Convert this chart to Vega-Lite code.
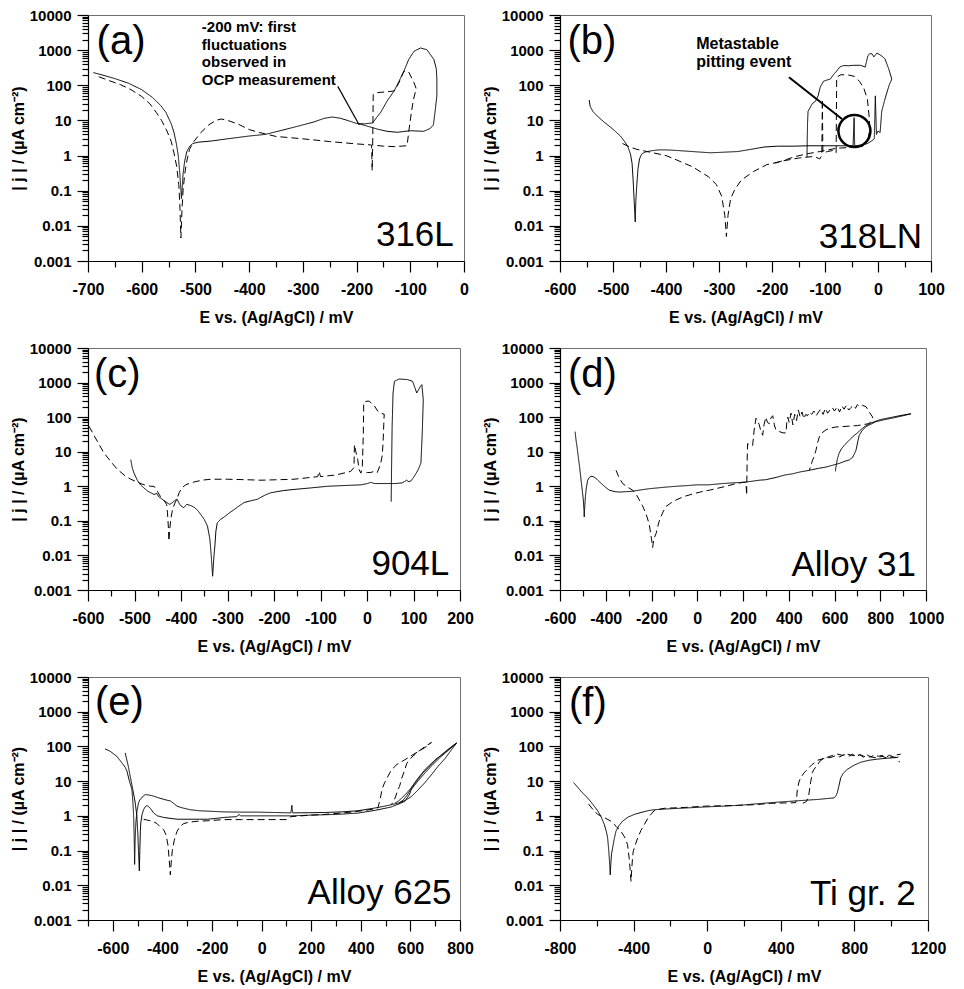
{
"$schema": "https://vega.github.io/schema/vega-lite/v6.json",
"background": "white",
"padding": {"left": 9, "top": 7, "right": 5, "bottom": 5},
"datasets": {
"a": [
{"E":-690,"j":230,"curve":"s","run":"solid"},{"E":-670,"j":190,"curve":"s","run":"solid"},{"E":-650,"j":155,"curve":"s","run":"solid"},{"E":-625,"j":115,"curve":"s","run":"solid"},{"E":-600,"j":75,"curve":"s","run":"solid"},{"E":-580,"j":45,"curve":"s","run":"solid"},{"E":-565,"j":27,"curve":"s","run":"solid"},{"E":-555,"j":17,"curve":"s","run":"solid"},{"E":-545,"j":8,"curve":"s","run":"solid"},{"E":-540,"j":4.6,"curve":"s","run":"solid"},{"E":-535,"j":2,"curve":"s","run":"solid"},{"E":-532,"j":1,"curve":"s","run":"solid"},{"E":-529,"j":0.3,"curve":"s","run":"solid"},{"E":-527,"j":0.1,"curve":"s","run":"solid"},{"E":-526,"j":0.06,"curve":"s","run":"solid"},{"E":-525,"j":0.1,"curve":"s","run":"solid"},{"E":-523,"j":0.3,"curve":"s","run":"solid"},{"E":-520,"j":0.7,"curve":"s","run":"solid"},{"E":-516,"j":1.3,"curve":"s","run":"solid"},{"E":-510,"j":1.9,"curve":"s","run":"solid"},{"E":-505,"j":2.2,"curve":"s","run":"solid"},{"E":-495,"j":2.4,"curve":"s","run":"solid"},{"E":-470,"j":2.6,"curve":"s","run":"solid"},{"E":-440,"j":3,"curve":"s","run":"solid"},{"E":-400,"j":3.6,"curve":"s","run":"solid"},{"E":-370,"j":4,"curve":"s","run":"solid"},{"E":-340,"j":5.2,"curve":"s","run":"solid"},{"E":-310,"j":6.8,"curve":"s","run":"solid"},{"E":-280,"j":9,"curve":"s","run":"solid"},{"E":-260,"j":11.5,"curve":"s","run":"solid"},{"E":-245,"j":12.5,"curve":"s","run":"solid"},{"E":-230,"j":11.5,"curve":"s","run":"solid"},{"E":-215,"j":9.8,"curve":"s","run":"solid"},{"E":-200,"j":8.2,"curve":"s","run":"solid"},{"E":-185,"j":8,"curve":"s","run":"solid"},{"E":-170,"j":8.5,"curve":"s","run":"solid"},{"E":-163,"j":12,"curve":"s","run":"solid"},{"E":-155,"j":17,"curve":"s","run":"solid"},{"E":-143,"j":36,"curve":"s","run":"solid"},{"E":-130,"j":69,"curve":"s","run":"solid"},{"E":-121,"j":130,"curve":"s","run":"solid"},{"E":-112,"j":250,"curve":"s","run":"solid"},{"E":-103,"j":540,"curve":"s","run":"solid"},{"E":-93,"j":930,"curve":"s","run":"solid"},{"E":-81,"j":1150,"curve":"s","run":"solid"},{"E":-69,"j":1030,"curve":"s","run":"solid"},{"E":-56,"j":540,"curve":"s","run":"solid"},{"E":-51.5,"j":290,"curve":"s","run":"solid"},{"E":-50.5,"j":148,"curve":"s","run":"solid"},{"E":-50.5,"j":50,"curve":"s","run":"solid"},{"E":-54,"j":17,"curve":"s","run":"solid"},{"E":-57,"j":7.5,"curve":"s","run":"solid"},{"E":-63,"j":5.9,"curve":"s","run":"solid"},{"E":-75,"j":4.9,"curve":"s","run":"solid"},{"E":-100,"j":5.1,"curve":"s","run":"solid"},{"E":-124,"j":4.6,"curve":"s","run":"solid"},{"E":-143,"j":4.9,"curve":"s","run":"solid"},{"E":-160,"j":5.6,"curve":"s","run":"solid"},{"E":-173,"j":6.4,"curve":"s","run":"solid"},{"E":-190,"j":7.6,"curve":"s","run":"solid"},{"E":-198,"j":8.3,"curve":"s","run":"solid"},
{"E":-680,"j":175,"curve":"d","run":"dashed"},{"E":-660,"j":135,"curve":"d","run":"dashed"},{"E":-640,"j":105,"curve":"d","run":"dashed"},{"E":-620,"j":75,"curve":"d","run":"dashed"},{"E":-600,"j":48,"curve":"d","run":"dashed"},{"E":-585,"j":30,"curve":"d","run":"dashed"},{"E":-573,"j":17,"curve":"d","run":"dashed"},{"E":-563,"j":10,"curve":"d","run":"dashed"},{"E":-553,"j":5,"curve":"d","run":"dashed"},{"E":-545,"j":2.5,"curve":"d","run":"dashed"},{"E":-540,"j":1.2,"curve":"d","run":"dashed"},{"E":-535,"j":0.5,"curve":"d","run":"dashed"},{"E":-531,"j":0.15,"curve":"d","run":"dashed"},{"E":-529,"j":0.04,"curve":"d","run":"dashed"},{"E":-527,"j":0.0045,"curve":"d","run":"dashed"},{"E":-525,"j":0.03,"curve":"d","run":"dashed"},{"E":-523,"j":0.1,"curve":"d","run":"dashed"},{"E":-520,"j":0.3,"curve":"d","run":"dashed"},{"E":-516,"j":0.7,"curve":"d","run":"dashed"},{"E":-511,"j":1.5,"curve":"d","run":"dashed"},{"E":-503,"j":2.5,"curve":"d","run":"dashed"},{"E":-490,"j":4.5,"curve":"d","run":"dashed"},{"E":-475,"j":7.5,"curve":"d","run":"dashed"},{"E":-462,"j":10,"curve":"d","run":"dashed"},{"E":-452,"j":11,"curve":"d","run":"dashed"},{"E":-440,"j":10,"curve":"d","run":"dashed"},{"E":-420,"j":7.8,"curve":"d","run":"dashed"},{"E":-400,"j":5.5,"curve":"d","run":"dashed"},{"E":-380,"j":4.5,"curve":"d","run":"dashed"},{"E":-350,"j":3.5,"curve":"d","run":"dashed"},{"E":-300,"j":3,"curve":"d","run":"dashed"},{"E":-250,"j":2.5,"curve":"d","run":"dashed"},{"E":-200,"j":2.15,"curve":"d","run":"dashed"},{"E":-172,"j":2,"curve":"d","run":"dashed"},{"E":-171,"j":0.37,"curve":"d","run":"dashed"},{"E":-170,"j":2,"curve":"d","run":"dashed"},{"E":-169,"j":55,"curve":"d","run":"dashed"},{"E":-161,"j":62,"curve":"d","run":"dashed"},{"E":-145,"j":65,"curve":"d","run":"dashed"},{"E":-130,"j":69,"curve":"d","run":"dashed"},{"E":-121,"j":118,"curve":"d","run":"dashed"},{"E":-112,"j":250,"curve":"d","run":"dashed"},{"E":-103,"j":240,"curve":"d","run":"dashed"},{"E":-93,"j":118,"curve":"d","run":"dashed"},{"E":-89,"j":80,"curve":"d","run":"dashed"},{"E":-94,"j":40,"curve":"d","run":"dashed"},{"E":-98,"j":17,"curve":"d","run":"dashed"},{"E":-103,"j":4.6,"curve":"d","run":"dashed"},{"E":-106,"j":1.9,"curve":"d","run":"dashed"},{"E":-130,"j":1.8,"curve":"d","run":"dashed"},{"E":-150,"j":1.85,"curve":"d","run":"dashed"},{"E":-170,"j":2,"curve":"d","run":"dashed"}
],
"b": [
{"E":-545,"j":38,"curve":"s","run":"solid"},{"E":-543,"j":25,"curve":"s","run":"solid"},{"E":-538,"j":18,"curve":"s","run":"solid"},{"E":-530,"j":13.5,"curve":"s","run":"solid"},{"E":-517,"j":9,"curve":"s","run":"solid"},{"E":-504,"j":6.3,"curve":"s","run":"solid"},{"E":-495,"j":4.8,"curve":"s","run":"solid"},{"E":-486,"j":3.6,"curve":"s","run":"solid"},{"E":-478,"j":2.5,"curve":"s","run":"solid"},{"E":-472,"j":1.8,"curve":"s","run":"solid"},{"E":-467,"j":1.1,"curve":"s","run":"solid"},{"E":-464,"j":0.6,"curve":"s","run":"solid"},{"E":-462,"j":0.2,"curve":"s","run":"solid"},{"E":-460,"j":0.05,"curve":"s","run":"solid"},{"E":-458,"j":0.013,"curve":"s","run":"solid"},{"E":-457,"j":0.05,"curve":"s","run":"solid"},{"E":-455,"j":0.15,"curve":"s","run":"solid"},{"E":-453,"j":0.4,"curve":"s","run":"solid"},{"E":-450,"j":0.8,"curve":"s","run":"solid"},{"E":-446,"j":1.1,"curve":"s","run":"solid"},{"E":-440,"j":1.25,"curve":"s","run":"solid"},{"E":-430,"j":1.35,"curve":"s","run":"solid"},{"E":-415,"j":1.45,"curve":"s","run":"solid"},{"E":-400,"j":1.45,"curve":"s","run":"solid"},{"E":-380,"j":1.4,"curve":"s","run":"solid"},{"E":-350,"j":1.3,"curve":"s","run":"solid"},{"E":-316,"j":1.2,"curve":"s","run":"solid"},{"E":-290,"j":1.25,"curve":"s","run":"solid"},{"E":-265,"j":1.3,"curve":"s","run":"solid"},{"E":-240,"j":1.5,"curve":"s","run":"solid"},{"E":-215,"j":1.75,"curve":"s","run":"solid"},{"E":-190,"j":1.85,"curve":"s","run":"solid"},{"E":-160,"j":1.85,"curve":"s","run":"solid"},{"E":-130,"j":1.9,"curve":"s","run":"solid"},{"E":-100,"j":1.9,"curve":"s","run":"solid"},{"E":-70,"j":1.9,"curve":"s","run":"solid"},{"E":-47,"j":1.9,"curve":"s","run":"solid"},{"E":-45,"j":12,"curve":"s","run":"solid"},{"E":-44,"j":1.9,"curve":"s","run":"solid"},{"E":-30,"j":2,"curve":"s","run":"solid"},{"E":-20,"j":2.2,"curve":"s","run":"solid"},{"E":-12,"j":2.6,"curve":"s","run":"solid"},{"E":-7,"j":3,"curve":"s","run":"solid"},{"E":-5,"j":50,"curve":"s","run":"solid"},{"E":-3,"j":4,"curve":"s","run":"solid"},{"E":0,"j":5,"curve":"s","run":"solid"},{"E":4,"j":4.5,"curve":"s","run":"solid"},{"E":7,"j":18,"curve":"s","run":"solid"},{"E":12,"j":35,"curve":"s","run":"solid"},{"E":16,"j":57,"curve":"s","run":"solid"},{"E":21,"j":100,"curve":"s","run":"solid"},{"E":26,"j":150,"curve":"s","run":"solid"},{"E":20,"j":300,"curve":"s","run":"solid"},{"E":13,"j":570,"curve":"s","run":"solid"},{"E":6,"j":700,"curve":"s","run":"solid"},{"E":-2,"j":830,"curve":"s","run":"solid"},{"E":-8,"j":640,"curve":"s","run":"solid"},{"E":-11,"j":780,"curve":"s","run":"solid"},{"E":-15,"j":800,"curve":"s","run":"solid"},{"E":-19,"j":700,"curve":"s","run":"solid"},{"E":-22,"j":450,"curve":"s","run":"solid"},{"E":-24,"j":330,"curve":"s","run":"solid"},{"E":-33,"j":370,"curve":"s","run":"solid"},{"E":-46,"j":370,"curve":"s","run":"solid"},{"E":-55,"j":360,"curve":"s","run":"solid"},{"E":-65,"j":365,"curve":"s","run":"solid"},{"E":-72,"j":330,"curve":"s","run":"solid"},{"E":-77,"j":265,"curve":"s","run":"solid"},{"E":-84,"j":200,"curve":"s","run":"solid"},{"E":-90,"j":150,"curve":"s","run":"solid"},{"E":-97,"j":140,"curve":"s","run":"solid"},{"E":-103,"j":130,"curve":"s","run":"solid"},{"E":-109,"j":88,"curve":"s","run":"solid"},{"E":-113,"j":50,"curve":"s","run":"solid"},{"E":-118,"j":35,"curve":"s","run":"solid"},{"E":-124,"j":30,"curve":"s","run":"solid"},{"E":-129,"j":22,"curve":"s","run":"solid"},{"E":-132,"j":18,"curve":"s","run":"solid"},{"E":-133,"j":8,"curve":"s","run":"solid"},{"E":-134,"j":0.9,"curve":"s","run":"solid"},
{"E":-482,"j":2.2,"curve":"d","run":"dashed"},{"E":-470,"j":1.8,"curve":"d","run":"dashed"},{"E":-455,"j":1.5,"curve":"d","run":"dashed"},{"E":-430,"j":1.25,"curve":"d","run":"dashed"},{"E":-400,"j":1,"curve":"d","run":"dashed"},{"E":-380,"j":0.75,"curve":"d","run":"dashed"},{"E":-350,"j":0.48,"curve":"d","run":"dashed"},{"E":-320,"j":0.25,"curve":"d","run":"dashed"},{"E":-305,"j":0.15,"curve":"d","run":"dashed"},{"E":-295,"j":0.07,"curve":"d","run":"dashed"},{"E":-289,"j":0.02,"curve":"d","run":"dashed"},{"E":-286,"j":0.005,"curve":"d","run":"dashed"},{"E":-283,"j":0.02,"curve":"d","run":"dashed"},{"E":-278,"j":0.06,"curve":"d","run":"dashed"},{"E":-270,"j":0.11,"curve":"d","run":"dashed"},{"E":-258,"j":0.2,"curve":"d","run":"dashed"},{"E":-235,"j":0.35,"curve":"d","run":"dashed"},{"E":-210,"j":0.55,"curve":"d","run":"dashed"},{"E":-180,"j":0.7,"curve":"d","run":"dashed"},{"E":-150,"j":0.85,"curve":"d","run":"dashed"},{"E":-120,"j":0.95,"curve":"d","run":"dashed"},{"E":-110,"j":0.8,"curve":"d","run":"dashed"},{"E":-106,"j":1,"curve":"d","run":"dashed"},{"E":-105,"j":40,"curve":"d","run":"dashed"},{"E":-104,"j":1.2,"curve":"d","run":"dashed"},{"E":-95,"j":1.3,"curve":"d","run":"dashed"},{"E":-85,"j":1.4,"curve":"d","run":"dashed"},{"E":-79,"j":1.2,"curve":"d","run":"dashed"},{"E":-78,"j":170,"curve":"d","run":"dashed"},{"E":-70,"j":200,"curve":"d","run":"dashed"},{"E":-55,"j":195,"curve":"d","run":"dashed"},{"E":-45,"j":180,"curve":"d","run":"dashed"},{"E":-35,"j":130,"curve":"d","run":"dashed"},{"E":-27,"j":85,"curve":"d","run":"dashed"},{"E":-20,"j":40,"curve":"d","run":"dashed"},{"E":-16,"j":10,"curve":"d","run":"dashed"},{"E":-16,"j":5,"curve":"d","run":"dashed"},{"E":-20,"j":2.5,"curve":"d","run":"dashed"},{"E":-30,"j":1.8,"curve":"d","run":"dashed"},{"E":-55,"j":1.7,"curve":"d","run":"dashed"},{"E":-80,"j":1.6,"curve":"d","run":"dashed"},{"E":-110,"j":1.3,"curve":"d","run":"dashed"},{"E":-130,"j":1.15,"curve":"d","run":"dashed"},{"E":-155,"j":0.95,"curve":"d","run":"dashed"},{"E":-195,"j":0.6,"curve":"d","run":"dashed"}
],
"c": [
{"E":-508,"j":5.9,"curve":"s","run":"solid"},{"E":-505,"j":3.5,"curve":"s","run":"solid"},{"E":-501,"j":2.4,"curve":"s","run":"solid"},{"E":-494,"j":1.5,"curve":"s","run":"solid"},{"E":-487,"j":1.1,"curve":"s","run":"solid"},{"E":-480,"j":0.9,"curve":"s","run":"solid"},{"E":-472,"j":0.73,"curve":"s","run":"solid"},{"E":-465,"j":0.65,"curve":"s","run":"solid"},{"E":-458,"j":0.58,"curve":"s","run":"solid"},{"E":-452,"j":0.62,"curve":"s","run":"solid"},{"E":-448,"j":0.5,"curve":"s","run":"solid"},{"E":-444,"j":0.46,"curve":"s","run":"solid"},{"E":-438,"j":0.4,"curve":"s","run":"solid"},{"E":-433,"j":0.36,"curve":"s","run":"solid"},{"E":-428,"j":0.32,"curve":"s","run":"solid"},{"E":-424,"j":0.3,"curve":"s","run":"solid"},{"E":-418,"j":0.34,"curve":"s","run":"solid"},{"E":-412,"j":0.4,"curve":"s","run":"solid"},{"E":-408,"j":0.42,"curve":"s","run":"solid"},{"E":-404,"j":0.32,"curve":"s","run":"solid"},{"E":-400,"j":0.27,"curve":"s","run":"solid"},{"E":-394,"j":0.24,"curve":"s","run":"solid"},{"E":-388,"j":0.3,"curve":"s","run":"solid"},{"E":-380,"j":0.28,"curve":"s","run":"solid"},{"E":-372,"j":0.25,"curve":"s","run":"solid"},{"E":-364,"j":0.2,"curve":"s","run":"solid"},{"E":-357,"j":0.15,"curve":"s","run":"solid"},{"E":-350,"j":0.11,"curve":"s","run":"solid"},{"E":-343,"j":0.07,"curve":"s","run":"solid"},{"E":-338,"j":0.03,"curve":"s","run":"solid"},{"E":-335,"j":0.01,"curve":"s","run":"solid"},{"E":-332,"j":0.0025,"curve":"s","run":"solid"},{"E":-329,"j":0.01,"curve":"s","run":"solid"},{"E":-327,"j":0.02,"curve":"s","run":"solid"},{"E":-325,"j":0.05,"curve":"s","run":"solid"},{"E":-322,"j":0.088,"curve":"s","run":"solid"},{"E":-315,"j":0.11,"curve":"s","run":"solid"},{"E":-307,"j":0.13,"curve":"s","run":"solid"},{"E":-296,"j":0.17,"curve":"s","run":"solid"},{"E":-286,"j":0.21,"curve":"s","run":"solid"},{"E":-275,"j":0.27,"curve":"s","run":"solid"},{"E":-264,"j":0.34,"curve":"s","run":"solid"},{"E":-250,"j":0.38,"curve":"s","run":"solid"},{"E":-236,"j":0.42,"curve":"s","run":"solid"},{"E":-220,"j":0.55,"curve":"s","run":"solid"},{"E":-207,"j":0.65,"curve":"s","run":"solid"},{"E":-180,"j":0.75,"curve":"s","run":"solid"},{"E":-157,"j":0.81,"curve":"s","run":"solid"},{"E":-120,"j":0.9,"curve":"s","run":"solid"},{"E":-85,"j":1,"curve":"s","run":"solid"},{"E":-50,"j":1.05,"curve":"s","run":"solid"},{"E":-13,"j":1.1,"curve":"s","run":"solid"},{"E":1,"j":1.2,"curve":"s","run":"solid"},{"E":8,"j":1.3,"curve":"s","run":"solid"},{"E":16,"j":1.2,"curve":"s","run":"solid"},{"E":30,"j":1.2,"curve":"s","run":"solid"},{"E":45,"j":1.2,"curve":"s","run":"solid"},{"E":60,"j":1.2,"curve":"s","run":"solid"},{"E":75,"j":1.25,"curve":"s","run":"solid"},{"E":80,"j":1.35,"curve":"s","run":"solid"},{"E":85,"j":1.5,"curve":"s","run":"solid"},{"E":90,"j":1.35,"curve":"s","run":"solid"},{"E":95,"j":1.45,"curve":"s","run":"solid"},{"E":100,"j":1.8,"curve":"s","run":"solid"},{"E":105,"j":2.3,"curve":"s","run":"solid"},{"E":110,"j":3,"curve":"s","run":"solid"},{"E":116,"j":4.7,"curve":"s","run":"solid"},{"E":119,"j":40,"curve":"s","run":"solid"},{"E":121,"j":320,"curve":"s","run":"solid"},{"E":118,"j":870,"curve":"s","run":"solid"},{"E":115,"j":780,"curve":"s","run":"solid"},{"E":107,"j":500,"curve":"s","run":"solid"},{"E":98,"j":1090,"curve":"s","run":"solid"},{"E":87,"j":1220,"curve":"s","run":"solid"},{"E":69,"j":1270,"curve":"s","run":"solid"},{"E":59,"j":1090,"curve":"s","run":"solid"},{"E":56,"j":500,"curve":"s","run":"solid"},{"E":54,"j":50,"curve":"s","run":"solid"},{"E":53,"j":5,"curve":"s","run":"solid"},{"E":52,"j":0.36,"curve":"s","run":"solid"},
{"E":-598,"j":55,"curve":"d","run":"dashed"},{"E":-590,"j":35,"curve":"d","run":"dashed"},{"E":-580,"j":20,"curve":"d","run":"dashed"},{"E":-566,"j":9.3,"curve":"d","run":"dashed"},{"E":-550,"j":5,"curve":"d","run":"dashed"},{"E":-537,"j":3.1,"curve":"d","run":"dashed"},{"E":-520,"j":2,"curve":"d","run":"dashed"},{"E":-508,"j":1.6,"curve":"d","run":"dashed"},{"E":-490,"j":1.25,"curve":"d","run":"dashed"},{"E":-479,"j":1.1,"curve":"d","run":"dashed"},{"E":-465,"j":1,"curve":"d","run":"dashed"},{"E":-458,"j":1,"curve":"d","run":"dashed"},{"E":-451,"j":0.72,"curve":"d","run":"dashed"},{"E":-444,"j":0.5,"curve":"d","run":"dashed"},{"E":-436,"j":0.38,"curve":"d","run":"dashed"},{"E":-431,"j":0.3,"curve":"d","run":"dashed"},{"E":-429,"j":0.17,"curve":"d","run":"dashed"},{"E":-427,"j":0.06,"curve":"d","run":"dashed"},{"E":-426,"j":0.026,"curve":"d","run":"dashed"},{"E":-424,"j":0.06,"curve":"d","run":"dashed"},{"E":-422,"j":0.11,"curve":"d","run":"dashed"},{"E":-418,"j":0.22,"curve":"d","run":"dashed"},{"E":-413,"j":0.33,"curve":"d","run":"dashed"},{"E":-409,"j":0.42,"curve":"d","run":"dashed"},{"E":-404,"j":0.65,"curve":"d","run":"dashed"},{"E":-398,"j":0.9,"curve":"d","run":"dashed"},{"E":-390,"j":1.1,"curve":"d","run":"dashed"},{"E":-380,"j":1.25,"curve":"d","run":"dashed"},{"E":-370,"j":1.35,"curve":"d","run":"dashed"},{"E":-355,"j":1.5,"curve":"d","run":"dashed"},{"E":-336,"j":1.6,"curve":"d","run":"dashed"},{"E":-300,"j":1.6,"curve":"d","run":"dashed"},{"E":-260,"j":1.55,"curve":"d","run":"dashed"},{"E":-228,"j":1.5,"curve":"d","run":"dashed"},{"E":-190,"j":1.55,"curve":"d","run":"dashed"},{"E":-157,"j":1.6,"curve":"d","run":"dashed"},{"E":-130,"j":1.75,"curve":"d","run":"dashed"},{"E":-106,"j":1.9,"curve":"d","run":"dashed"},{"E":-103,"j":2.7,"curve":"d","run":"dashed"},{"E":-100,"j":1.9,"curve":"d","run":"dashed"},{"E":-85,"j":2,"curve":"d","run":"dashed"},{"E":-70,"j":2.1,"curve":"d","run":"dashed"},{"E":-56,"j":2.3,"curve":"d","run":"dashed"},{"E":-45,"j":2.5,"curve":"d","run":"dashed"},{"E":-35,"j":2.7,"curve":"d","run":"dashed"},{"E":-28,"j":3.5,"curve":"d","run":"dashed"},{"E":-27,"j":16,"curve":"d","run":"dashed"},{"E":-24,"j":10,"curve":"d","run":"dashed"},{"E":-20,"j":6,"curve":"d","run":"dashed"},{"E":-17,"j":3,"curve":"d","run":"dashed"},{"E":-13,"j":2.4,"curve":"d","run":"dashed"},{"E":-10,"j":3.9,"curve":"d","run":"dashed"},{"E":-8,"j":30,"curve":"d","run":"dashed"},{"E":-7,"j":270,"curve":"d","run":"dashed"},{"E":0,"j":290,"curve":"d","run":"dashed"},{"E":5,"j":290,"curve":"d","run":"dashed"},{"E":11,"j":240,"curve":"d","run":"dashed"},{"E":16,"j":210,"curve":"d","run":"dashed"},{"E":23,"j":150,"curve":"d","run":"dashed"},{"E":30,"j":128,"curve":"d","run":"dashed"},{"E":37,"j":122,"curve":"d","run":"dashed"},{"E":36,"j":60,"curve":"d","run":"dashed"},{"E":35,"j":25,"curve":"d","run":"dashed"},{"E":33,"j":8,"curve":"d","run":"dashed"},{"E":30,"j":5,"curve":"d","run":"dashed"},{"E":26,"j":3.4,"curve":"d","run":"dashed"},{"E":22,"j":2.5,"curve":"d","run":"dashed"},{"E":15,"j":2.7,"curve":"d","run":"dashed"},{"E":8,"j":2.5,"curve":"d","run":"dashed"},{"E":1,"j":2.5,"curve":"d","run":"dashed"},{"E":-6,"j":2.4,"curve":"d","run":"dashed"}
],
"d": [
{"E":-534,"j":38,"curve":"s","run":"solid"},{"E":-530,"j":22,"curve":"s","run":"solid"},{"E":-525,"j":13,"curve":"s","run":"solid"},{"E":-520,"j":7,"curve":"s","run":"solid"},{"E":-514,"j":3.5,"curve":"s","run":"solid"},{"E":-508,"j":1.5,"curve":"s","run":"solid"},{"E":-502,"j":0.7,"curve":"s","run":"solid"},{"E":-498,"j":0.4,"curve":"s","run":"solid"},{"E":-495,"j":0.2,"curve":"s","run":"solid"},{"E":-494,"j":0.13,"curve":"s","run":"solid"},{"E":-492,"j":0.25,"curve":"s","run":"solid"},{"E":-489,"j":0.5,"curve":"s","run":"solid"},{"E":-485,"j":0.9,"curve":"s","run":"solid"},{"E":-479,"j":1.5,"curve":"s","run":"solid"},{"E":-472,"j":1.8,"curve":"s","run":"solid"},{"E":-464,"j":1.95,"curve":"s","run":"solid"},{"E":-455,"j":1.9,"curve":"s","run":"solid"},{"E":-443,"j":1.7,"curve":"s","run":"solid"},{"E":-430,"j":1.4,"curve":"s","run":"solid"},{"E":-413,"j":1.1,"curve":"s","run":"solid"},{"E":-398,"j":0.9,"curve":"s","run":"solid"},{"E":-384,"j":0.77,"curve":"s","run":"solid"},{"E":-360,"j":0.7,"curve":"s","run":"solid"},{"E":-341,"j":0.68,"curve":"s","run":"solid"},{"E":-310,"j":0.7,"curve":"s","run":"solid"},{"E":-282,"j":0.72,"curve":"s","run":"solid"},{"E":-250,"j":0.78,"curve":"s","run":"solid"},{"E":-210,"j":0.85,"curve":"s","run":"solid"},{"E":-150,"j":0.93,"curve":"s","run":"solid"},{"E":-93,"j":1,"curve":"s","run":"solid"},{"E":-40,"j":1.05,"curve":"s","run":"solid"},{"E":-5,"j":1.1,"curve":"s","run":"solid"},{"E":50,"j":1.1,"curve":"s","run":"solid"},{"E":111,"j":1.2,"curve":"s","run":"solid"},{"E":150,"j":1.25,"curve":"s","run":"solid"},{"E":198,"j":1.3,"curve":"s","run":"solid"},{"E":240,"j":1.4,"curve":"s","run":"solid"},{"E":271,"j":1.5,"curve":"s","run":"solid"},{"E":300,"j":1.55,"curve":"s","run":"solid"},{"E":344,"j":1.8,"curve":"s","run":"solid"},{"E":380,"j":2.1,"curve":"s","run":"solid"},{"E":417,"j":2.3,"curve":"s","run":"solid"},{"E":450,"j":2.6,"curve":"s","run":"solid"},{"E":490,"j":2.9,"curve":"s","run":"solid"},{"E":530,"j":3.3,"curve":"s","run":"solid"},{"E":563,"j":3.6,"curve":"s","run":"solid"},{"E":600,"j":4.2,"curve":"s","run":"solid"},{"E":621,"j":4.6,"curve":"s","run":"solid"},{"E":645,"j":5.3,"curve":"s","run":"solid"},{"E":665,"j":5.8,"curve":"s","run":"solid"},{"E":680,"j":7,"curve":"s","run":"solid"},{"E":694,"j":11,"curve":"s","run":"solid"},{"E":702,"j":20,"curve":"s","run":"solid"},{"E":708,"j":30,"curve":"s","run":"solid"},{"E":720,"j":40,"curve":"s","run":"solid"},{"E":737,"j":53,"curve":"s","run":"solid"},{"E":760,"j":63,"curve":"s","run":"solid"},{"E":781,"j":74,"curve":"s","run":"solid"},{"E":820,"j":85,"curve":"s","run":"solid"},{"E":854,"j":94,"curve":"s","run":"solid"},{"E":900,"j":110,"curve":"s","run":"solid"},{"E":934,"j":125,"curve":"s","run":"solid"},{"E":900,"j":115,"curve":"s","run":"solid"},{"E":854,"j":100,"curve":"s","run":"solid"},{"E":800,"j":85,"curve":"s","run":"solid"},{"E":760,"j":68,"curve":"s","run":"solid"},{"E":740,"j":58,"curve":"s","run":"solid"},{"E":723,"j":48,"curve":"s","run":"solid"},{"E":700,"j":35,"curve":"s","run":"solid"},{"E":679,"j":27,"curve":"s","run":"solid"},{"E":660,"j":20,"curve":"s","run":"solid"},{"E":645,"j":16,"curve":"s","run":"solid"},{"E":630,"j":12,"curve":"s","run":"solid"},{"E":620,"j":9,"curve":"s","run":"solid"},{"E":612,"j":6,"curve":"s","run":"solid"},{"E":606,"j":3.5,"curve":"s","run":"solid"},{"E":604,"j":2.7,"curve":"s","run":"solid"},
{"E":-355,"j":2.9,"curve":"d","run":"dashed"},{"E":-345,"j":2,"curve":"d","run":"dashed"},{"E":-335,"j":1.5,"curve":"d","run":"dashed"},{"E":-326,"j":1.2,"curve":"d","run":"dashed"},{"E":-305,"j":0.95,"curve":"d","run":"dashed"},{"E":-282,"j":0.77,"curve":"d","run":"dashed"},{"E":-265,"j":0.55,"curve":"d","run":"dashed"},{"E":-253,"j":0.4,"curve":"d","run":"dashed"},{"E":-240,"j":0.28,"curve":"d","run":"dashed"},{"E":-224,"j":0.16,"curve":"d","run":"dashed"},{"E":-210,"j":0.08,"curve":"d","run":"dashed"},{"E":-200,"j":0.03,"curve":"d","run":"dashed"},{"E":-195,"j":0.017,"curve":"d","run":"dashed"},{"E":-190,"j":0.03,"curve":"d","run":"dashed"},{"E":-180,"j":0.043,"curve":"d","run":"dashed"},{"E":-172,"j":0.07,"curve":"d","run":"dashed"},{"E":-166,"j":0.1,"curve":"d","run":"dashed"},{"E":-150,"j":0.18,"curve":"d","run":"dashed"},{"E":-137,"j":0.26,"curve":"d","run":"dashed"},{"E":-115,"j":0.33,"curve":"d","run":"dashed"},{"E":-93,"j":0.4,"curve":"d","run":"dashed"},{"E":-60,"j":0.5,"curve":"d","run":"dashed"},{"E":-20,"j":0.6,"curve":"d","run":"dashed"},{"E":20,"j":0.7,"curve":"d","run":"dashed"},{"E":53,"j":0.77,"curve":"d","run":"dashed"},{"E":90,"j":0.88,"curve":"d","run":"dashed"},{"E":126,"j":1,"curve":"d","run":"dashed"},{"E":160,"j":1.15,"curve":"d","run":"dashed"},{"E":199,"j":1.3,"curve":"d","run":"dashed"},{"E":213,"j":1.3,"curve":"d","run":"dashed"},{"E":216,"j":0.55,"curve":"d","run":"dashed"},{"E":218,"j":5,"curve":"d","run":"dashed"},{"E":220,"j":17,"curve":"d","run":"dashed"},{"E":232,"j":16,"curve":"d","run":"dashed"},{"E":242,"j":15,"curve":"d","run":"dashed"},{"E":250,"j":50,"curve":"d","run":"dashed"},{"E":257,"j":93,"curve":"d","run":"dashed"},{"E":265,"j":75,"curve":"d","run":"dashed"},{"E":271,"j":60,"curve":"d","run":"dashed"},{"E":278,"j":40,"curve":"d","run":"dashed"},{"E":286,"j":30,"curve":"d","run":"dashed"},{"E":292,"j":60,"curve":"d","run":"dashed"},{"E":300,"j":100,"curve":"d","run":"dashed"},{"E":307,"j":70,"curve":"d","run":"dashed"},{"E":315,"j":65,"curve":"d","run":"dashed"},{"E":322,"j":95,"curve":"d","run":"dashed"},{"E":330,"j":110,"curve":"d","run":"dashed"},{"E":337,"j":60,"curve":"d","run":"dashed"},{"E":344,"j":42,"curve":"d","run":"dashed"},{"E":360,"j":38,"curve":"d","run":"dashed"},{"E":375,"j":35,"curve":"d","run":"dashed"},{"E":388,"j":35,"curve":"d","run":"dashed"},{"E":392,"j":80,"curve":"d","run":"dashed"},{"E":396,"j":100,"curve":"d","run":"dashed"},{"E":402,"j":70,"curve":"d","run":"dashed"},{"E":410,"j":130,"curve":"d","run":"dashed"},{"E":418,"j":60,"curve":"d","run":"dashed"},{"E":426,"j":120,"curve":"d","run":"dashed"},{"E":434,"j":80,"curve":"d","run":"dashed"},{"E":442,"j":160,"curve":"d","run":"dashed"},{"E":450,"j":100,"curve":"d","run":"dashed"},{"E":458,"j":140,"curve":"d","run":"dashed"},{"E":466,"j":90,"curve":"d","run":"dashed"},{"E":474,"j":120,"curve":"d","run":"dashed"},{"E":482,"j":110,"curve":"d","run":"dashed"},{"E":490,"j":140,"curve":"d","run":"dashed"},{"E":500,"j":120,"curve":"d","run":"dashed"},{"E":510,"j":150,"curve":"d","run":"dashed"},{"E":520,"j":110,"curve":"d","run":"dashed"},{"E":530,"j":140,"curve":"d","run":"dashed"},{"E":540,"j":170,"curve":"d","run":"dashed"},{"E":550,"j":120,"curve":"d","run":"dashed"},{"E":560,"j":180,"curve":"d","run":"dashed"},{"E":570,"j":130,"curve":"d","run":"dashed"},{"E":580,"j":160,"curve":"d","run":"dashed"},{"E":590,"j":190,"curve":"d","run":"dashed"},{"E":600,"j":150,"curve":"d","run":"dashed"},{"E":612,"j":200,"curve":"d","run":"dashed"},{"E":622,"j":140,"curve":"d","run":"dashed"},{"E":632,"j":210,"curve":"d","run":"dashed"},{"E":642,"j":170,"curve":"d","run":"dashed"},{"E":652,"j":220,"curve":"d","run":"dashed"},{"E":662,"j":160,"curve":"d","run":"dashed"},{"E":672,"j":190,"curve":"d","run":"dashed"},{"E":682,"j":220,"curve":"d","run":"dashed"},{"E":692,"j":180,"curve":"d","run":"dashed"},{"E":700,"j":230,"curve":"d","run":"dashed"},{"E":710,"j":200,"curve":"d","run":"dashed"},{"E":722,"j":220,"curve":"d","run":"dashed"},{"E":738,"j":200,"curve":"d","run":"dashed"},{"E":752,"j":140,"curve":"d","run":"dashed"},{"E":767,"j":100,"curve":"d","run":"dashed"},{"E":758,"j":75,"curve":"d","run":"dashed"},{"E":752,"j":65,"curve":"d","run":"dashed"},{"E":720,"j":60,"curve":"d","run":"dashed"},{"E":700,"j":57,"curve":"d","run":"dashed"},{"E":665,"j":55,"curve":"d","run":"dashed"},{"E":630,"j":53,"curve":"d","run":"dashed"},{"E":607,"j":52,"curve":"d","run":"dashed"},{"E":580,"j":48,"curve":"d","run":"dashed"},{"E":563,"j":43,"curve":"d","run":"dashed"},{"E":545,"j":35,"curve":"d","run":"dashed"},{"E":534,"j":27,"curve":"d","run":"dashed"},{"E":526,"j":18,"curve":"d","run":"dashed"},{"E":519,"j":11,"curve":"d","run":"dashed"},{"E":510,"j":7,"curve":"d","run":"dashed"},{"E":504,"j":5.7,"curve":"d","run":"dashed"},{"E":497,"j":4,"curve":"d","run":"dashed"},{"E":490,"j":2.9,"curve":"d","run":"dashed"}
],
"e": [
{"E":-631,"j":85,"curve":"s1","run":"solid"},{"E":-610,"j":72,"curve":"s1","run":"solid"},{"E":-584,"j":52,"curve":"s1","run":"solid"},{"E":-565,"j":35,"curve":"s1","run":"solid"},{"E":-550,"j":25,"curve":"s1","run":"solid"},{"E":-543,"j":19.5,"curve":"s1","run":"solid"},{"E":-533,"j":10,"curve":"s1","run":"solid"},{"E":-523,"j":5.8,"curve":"s1","run":"solid"},{"E":-519,"j":2.5,"curve":"s1","run":"solid"},{"E":-516,"j":1,"curve":"s1","run":"solid"},{"E":-514,"j":0.3,"curve":"s1","run":"solid"},{"E":-512,"j":0.04,"curve":"s1","run":"solid"},{"E":-510,"j":0.2,"curve":"s1","run":"solid"},{"E":-507,"j":0.63,"curve":"s1","run":"solid"},{"E":-503,"j":1.3,"curve":"s1","run":"solid"},{"E":-496,"j":2.4,"curve":"s1","run":"solid"},{"E":-490,"j":3,"curve":"s1","run":"solid"},{"E":-483,"j":3.3,"curve":"s1","run":"solid"},{"E":-476,"j":3.8,"curve":"s1","run":"solid"},{"E":-469,"j":4.1,"curve":"s1","run":"solid"},{"E":-455,"j":4,"curve":"s1","run":"solid"},{"E":-435,"j":3.7,"curve":"s1","run":"solid"},{"E":-415,"j":3.3,"curve":"s1","run":"solid"},{"E":-395,"j":3,"curve":"s1","run":"solid"},{"E":-380,"j":2.8,"curve":"s1","run":"solid"},{"E":-368,"j":2.7,"curve":"s1","run":"solid"},{"E":-355,"j":2.3,"curve":"s1","run":"solid"},{"E":-341,"j":1.9,"curve":"s1","run":"solid"},{"E":-320,"j":1.7,"curve":"s1","run":"solid"},{"E":-287,"j":1.5,"curve":"s1","run":"solid"},{"E":-250,"j":1.4,"curve":"s1","run":"solid"},{"E":-200,"j":1.35,"curve":"s1","run":"solid"},{"E":-152,"j":1.3,"curve":"s1","run":"solid"},{"E":-80,"j":1.28,"curve":"s1","run":"solid"},{"E":-17,"j":1.28,"curve":"s1","run":"solid"},{"E":50,"j":1.25,"curve":"s1","run":"solid"},{"E":118,"j":1.22,"curve":"s1","run":"solid"},{"E":122,"j":2,"curve":"s1","run":"solid"},{"E":125,"j":1.22,"curve":"s1","run":"solid"},{"E":190,"j":1.23,"curve":"s1","run":"solid"},{"E":253,"j":1.25,"curve":"s1","run":"solid"},{"E":320,"j":1.3,"curve":"s1","run":"solid"},{"E":388,"j":1.4,"curve":"s1","run":"solid"},{"E":450,"j":1.65,"curve":"s1","run":"solid"},{"E":496,"j":1.9,"curve":"s1","run":"solid"},{"E":550,"j":2.3,"curve":"s1","run":"solid"},{"E":580,"j":2.8,"curve":"s1","run":"solid"},{"E":604,"j":3.6,"curve":"s1","run":"solid"},{"E":630,"j":5.5,"curve":"s1","run":"solid"},{"E":658,"j":9,"curve":"s1","run":"solid"},{"E":690,"j":17,"curve":"s1","run":"solid"},{"E":712,"j":27,"curve":"s1","run":"solid"},{"E":740,"j":45,"curve":"s1","run":"solid"},{"E":766,"j":81,"curve":"s1","run":"solid"},{"E":786,"j":125,"curve":"s1","run":"solid"},{"E":760,"j":90,"curve":"s1","run":"solid"},{"E":730,"j":60,"curve":"s1","run":"solid"},{"E":700,"j":41,"curve":"s1","run":"solid"},{"E":660,"j":22,"curve":"s1","run":"solid"},{"E":630,"j":12,"curve":"s1","run":"solid"},{"E":600,"j":6,"curve":"s1","run":"solid"},{"E":578,"j":4,"curve":"s1","run":"solid"},{"E":564,"j":3.2,"curve":"s1","run":"solid"},{"E":550,"j":2.6,"curve":"s1","run":"solid"},{"E":537,"j":2.3,"curve":"s1","run":"solid"},
{"E":-550,"j":65,"curve":"s2","run":"solid"},{"E":-545,"j":45,"curve":"s2","run":"solid"},{"E":-538,"j":28,"curve":"s2","run":"solid"},{"E":-530,"j":14,"curve":"s2","run":"solid"},{"E":-520,"j":6,"curve":"s2","run":"solid"},{"E":-510,"j":2.5,"curve":"s2","run":"solid"},{"E":-503,"j":1,"curve":"s2","run":"solid"},{"E":-499,"j":0.3,"curve":"s2","run":"solid"},{"E":-496,"j":0.08,"curve":"s2","run":"solid"},{"E":-493,"j":0.026,"curve":"s2","run":"solid"},{"E":-491,"j":0.1,"curve":"s2","run":"solid"},{"E":-489,"j":0.35,"curve":"s2","run":"solid"},{"E":-487,"j":0.63,"curve":"s2","run":"solid"},{"E":-482,"j":1.1,"curve":"s2","run":"solid"},{"E":-476,"j":1.5,"curve":"s2","run":"solid"},{"E":-470,"j":1.8,"curve":"s2","run":"solid"},{"E":-462,"j":2,"curve":"s2","run":"solid"},{"E":-450,"j":1.7,"curve":"s2","run":"solid"},{"E":-435,"j":1.2,"curve":"s2","run":"solid"},{"E":-420,"j":1,"curve":"s2","run":"solid"},{"E":-395,"j":0.9,"curve":"s2","run":"solid"},{"E":-370,"j":0.85,"curve":"s2","run":"solid"},{"E":-341,"j":0.8,"curve":"s2","run":"solid"},{"E":-300,"j":0.8,"curve":"s2","run":"solid"},{"E":-250,"j":0.8,"curve":"s2","run":"solid"},{"E":-219,"j":0.8,"curve":"s2","run":"solid"},{"E":-180,"j":0.85,"curve":"s2","run":"solid"},{"E":-152,"j":0.9,"curve":"s2","run":"solid"},{"E":-100,"j":0.95,"curve":"s2","run":"solid"},{"E":-91,"j":1.1,"curve":"s2","run":"solid"},{"E":-85,"j":1,"curve":"s2","run":"solid"},{"E":-17,"j":1,"curve":"s2","run":"solid"},{"E":50,"j":1,"curve":"s2","run":"solid"},{"E":118,"j":1,"curve":"s2","run":"solid"},{"E":200,"j":1.05,"curve":"s2","run":"solid"},{"E":300,"j":1.1,"curve":"s2","run":"solid"},{"E":388,"j":1.2,"curve":"s2","run":"solid"},{"E":460,"j":1.45,"curve":"s2","run":"solid"},{"E":523,"j":1.8,"curve":"s2","run":"solid"},{"E":560,"j":2.3,"curve":"s2","run":"solid"},{"E":577,"j":2.6,"curve":"s2","run":"solid"},{"E":595,"j":4,"curve":"s2","run":"solid"},{"E":604,"j":5.8,"curve":"s2","run":"solid"},{"E":630,"j":10,"curve":"s2","run":"solid"},{"E":658,"j":17,"curve":"s2","run":"solid"},{"E":690,"j":30,"curve":"s2","run":"solid"},{"E":725,"j":52,"curve":"s2","run":"solid"},{"E":760,"j":85,"curve":"s2","run":"solid"},{"E":786,"j":125,"curve":"s2","run":"solid"},{"E":775,"j":110,"curve":"s2","run":"solid"},{"E":740,"j":70,"curve":"s2","run":"solid"},{"E":700,"j":40,"curve":"s2","run":"solid"},{"E":680,"j":28,"curve":"s2","run":"solid"},{"E":650,"j":17,"curve":"s2","run":"solid"},{"E":620,"j":9,"curve":"s2","run":"solid"},{"E":600,"j":5.5,"curve":"s2","run":"solid"},{"E":585,"j":3.8,"curve":"s2","run":"solid"},{"E":570,"j":2.8,"curve":"s2","run":"solid"},{"E":555,"j":2.4,"curve":"s2","run":"solid"},
{"E":-476,"j":0.8,"curve":"d","run":"dashed"},{"E":-460,"j":0.75,"curve":"d","run":"dashed"},{"E":-440,"j":0.7,"curve":"d","run":"dashed"},{"E":-422,"j":0.6,"curve":"d","run":"dashed"},{"E":-405,"j":0.45,"curve":"d","run":"dashed"},{"E":-395,"j":0.4,"curve":"d","run":"dashed"},{"E":-385,"j":0.28,"curve":"d","run":"dashed"},{"E":-378,"j":0.15,"curve":"d","run":"dashed"},{"E":-373,"j":0.06,"curve":"d","run":"dashed"},{"E":-368,"j":0.02,"curve":"d","run":"dashed"},{"E":-364,"j":0.05,"curve":"d","run":"dashed"},{"E":-360,"j":0.1,"curve":"d","run":"dashed"},{"E":-352,"j":0.2,"curve":"d","run":"dashed"},{"E":-341,"j":0.36,"curve":"d","run":"dashed"},{"E":-328,"j":0.5,"curve":"d","run":"dashed"},{"E":-314,"j":0.6,"curve":"d","run":"dashed"},{"E":-290,"j":0.66,"curve":"d","run":"dashed"},{"E":-260,"j":0.7,"curve":"d","run":"dashed"},{"E":-220,"j":0.72,"curve":"d","run":"dashed"},{"E":-152,"j":0.78,"curve":"d","run":"dashed"},{"E":-80,"j":0.78,"curve":"d","run":"dashed"},{"E":-17,"j":0.78,"curve":"d","run":"dashed"},{"E":50,"j":0.78,"curve":"d","run":"dashed"},{"E":105,"j":0.78,"curve":"d","run":"dashed"},{"E":118,"j":0.95,"curve":"d","run":"dashed"},{"E":200,"j":1.05,"curve":"d","run":"dashed"},{"E":253,"j":1.1,"curve":"d","run":"dashed"},{"E":350,"j":1.25,"curve":"d","run":"dashed"},{"E":420,"j":1.45,"curve":"d","run":"dashed"},{"E":456,"j":1.6,"curve":"d","run":"dashed"},{"E":469,"j":1.7,"curve":"d","run":"dashed"},{"E":478,"j":3,"curve":"d","run":"dashed"},{"E":486,"j":6,"curve":"d","run":"dashed"},{"E":496,"j":9,"curve":"d","run":"dashed"},{"E":510,"j":14,"curve":"d","run":"dashed"},{"E":523,"j":21,"curve":"d","run":"dashed"},{"E":545,"j":30,"curve":"d","run":"dashed"},{"E":577,"j":41,"curve":"d","run":"dashed"},{"E":610,"j":58,"curve":"d","run":"dashed"},{"E":645,"j":81,"curve":"d","run":"dashed"},{"E":670,"j":105,"curve":"d","run":"dashed"},{"E":685,"j":130,"curve":"d","run":"dashed"},{"E":660,"j":100,"curve":"d","run":"dashed"},{"E":630,"j":70,"curve":"d","run":"dashed"},{"E":600,"j":45,"curve":"d","run":"dashed"},{"E":585,"j":32,"curve":"d","run":"dashed"},{"E":577,"j":21,"curve":"d","run":"dashed"},{"E":565,"j":12,"curve":"d","run":"dashed"},{"E":556,"j":7,"curve":"d","run":"dashed"},{"E":550,"j":5.8,"curve":"d","run":"dashed"},{"E":540,"j":3.5,"curve":"d","run":"dashed"},{"E":530,"j":2.5,"curve":"d","run":"dashed"},{"E":523,"j":2.1,"curve":"d","run":"dashed"}
],
"f": [
{"E":-726,"j":9.1,"curve":"s","run":"solid"},{"E":-700,"j":6.3,"curve":"s","run":"solid"},{"E":-680,"j":4.7,"curve":"s","run":"solid"},{"E":-650,"j":3.3,"curve":"s","run":"solid"},{"E":-620,"j":2.1,"curve":"s","run":"solid"},{"E":-595,"j":1.4,"curve":"s","run":"solid"},{"E":-575,"j":0.9,"curve":"s","run":"solid"},{"E":-559,"j":0.56,"curve":"s","run":"solid"},{"E":-548,"j":0.35,"curve":"s","run":"solid"},{"E":-541,"j":0.23,"curve":"s","run":"solid"},{"E":-535,"j":0.1,"curve":"s","run":"solid"},{"E":-530,"j":0.04,"curve":"s","run":"solid"},{"E":-527,"j":0.02,"curve":"s","run":"solid"},{"E":-524,"j":0.04,"curve":"s","run":"solid"},{"E":-520,"j":0.08,"curve":"s","run":"solid"},{"E":-514,"j":0.12,"curve":"s","run":"solid"},{"E":-505,"j":0.22,"curve":"s","run":"solid"},{"E":-496,"j":0.36,"curve":"s","run":"solid"},{"E":-480,"j":0.52,"curve":"s","run":"solid"},{"E":-460,"j":0.7,"curve":"s","run":"solid"},{"E":-430,"j":0.92,"curve":"s","run":"solid"},{"E":-396,"j":1.1,"curve":"s","run":"solid"},{"E":-360,"j":1.25,"curve":"s","run":"solid"},{"E":-324,"j":1.4,"curve":"s","run":"solid"},{"E":-290,"j":1.5,"curve":"s","run":"solid"},{"E":-252,"j":1.55,"curve":"s","run":"solid"},{"E":-150,"j":1.65,"curve":"s","run":"solid"},{"E":-16,"j":1.8,"curve":"s","run":"solid"},{"E":80,"j":1.9,"curve":"s","run":"solid"},{"E":165,"j":2,"curve":"s","run":"solid"},{"E":260,"j":2.2,"curve":"s","run":"solid"},{"E":346,"j":2.4,"curve":"s","run":"solid"},{"E":440,"j":2.6,"curve":"s","run":"solid"},{"E":527,"j":2.8,"curve":"s","run":"solid"},{"E":610,"j":3,"curve":"s","run":"solid"},{"E":690,"j":3.3,"curve":"s","run":"solid"},{"E":700,"j":3.8,"curve":"s","run":"solid"},{"E":707,"j":4.6,"curve":"s","run":"solid"},{"E":715,"j":7,"curve":"s","run":"solid"},{"E":726,"j":12.6,"curve":"s","run":"solid"},{"E":740,"j":17,"curve":"s","run":"solid"},{"E":762,"j":22,"curve":"s","run":"solid"},{"E":800,"j":29,"curve":"s","run":"solid"},{"E":834,"j":35,"curve":"s","run":"solid"},{"E":880,"j":40,"curve":"s","run":"solid"},{"E":925,"j":43,"curve":"s","run":"solid"},{"E":980,"j":46,"curve":"s","run":"solid"},{"E":1033,"j":48,"curve":"s","run":"solid"},{"E":1040,"j":50,"curve":"s","run":"solid"},
{"E":-645,"j":2.2,"curve":"d1","run":"dashed"},{"E":-620,"j":1.5,"curve":"d1","run":"dashed"},{"E":-595,"j":1.1,"curve":"d1","run":"dashed"},{"E":-560,"j":0.9,"curve":"d1","run":"dashed"},{"E":-523,"j":0.7,"curve":"d1","run":"dashed"},{"E":-495,"j":0.5,"curve":"d1","run":"dashed"},{"E":-469,"j":0.36,"curve":"d1","run":"dashed"},{"E":-450,"j":0.25,"curve":"d1","run":"dashed"},{"E":-433,"j":0.15,"curve":"d1","run":"dashed"},{"E":-424,"j":0.06,"curve":"d1","run":"dashed"},{"E":-418,"j":0.025,"curve":"d1","run":"dashed"},{"E":-414,"j":0.013,"curve":"d1","run":"dashed"},{"E":-410,"j":0.03,"curve":"d1","run":"dashed"},{"E":-406,"j":0.06,"curve":"d1","run":"dashed"},{"E":-402,"j":0.095,"curve":"d1","run":"dashed"},{"E":-390,"j":0.15,"curve":"d1","run":"dashed"},{"E":-378,"j":0.23,"curve":"d1","run":"dashed"},{"E":-360,"j":0.38,"curve":"d1","run":"dashed"},{"E":-342,"j":0.56,"curve":"d1","run":"dashed"},{"E":-320,"j":0.9,"curve":"d1","run":"dashed"},{"E":-300,"j":1.2,"curve":"d1","run":"dashed"},{"E":-288,"j":1.4,"curve":"d1","run":"dashed"},{"E":-260,"j":1.55,"curve":"d1","run":"dashed"},{"E":-233,"j":1.65,"curve":"d1","run":"dashed"},{"E":-120,"j":1.75,"curve":"d1","run":"dashed"},{"E":-16,"j":1.9,"curve":"d1","run":"dashed"},{"E":80,"j":1.95,"curve":"d1","run":"dashed"},{"E":165,"j":2,"curve":"d1","run":"dashed"},{"E":260,"j":2.1,"curve":"d1","run":"dashed"},{"E":346,"j":2.3,"curve":"d1","run":"dashed"},{"E":420,"j":2.35,"curve":"d1","run":"dashed"},{"E":481,"j":2.4,"curve":"d1","run":"dashed"},{"E":486,"j":3.3,"curve":"d1","run":"dashed"},{"E":490,"j":6,"curve":"d1","run":"dashed"},{"E":500,"j":10,"curve":"d1","run":"dashed"},{"E":509,"j":12.6,"curve":"d1","run":"dashed"},{"E":525,"j":17,"curve":"d1","run":"dashed"},{"E":545,"j":22,"curve":"d1","run":"dashed"},{"E":570,"j":30,"curve":"d1","run":"dashed"},{"E":600,"j":40,"curve":"d1","run":"dashed"},{"E":640,"j":46,"curve":"d1","run":"dashed"},{"E":672,"j":48,"curve":"d1","run":"dashed"},{"E":700,"j":55,"curve":"d1","run":"dashed"},{"E":720,"j":50,"curve":"d1","run":"dashed"},{"E":744,"j":58,"curve":"d1","run":"dashed"},{"E":770,"j":52,"curve":"d1","run":"dashed"},{"E":790,"j":60,"curve":"d1","run":"dashed"},{"E":810,"j":50,"curve":"d1","run":"dashed"},{"E":830,"j":58,"curve":"d1","run":"dashed"},{"E":850,"j":48,"curve":"d1","run":"dashed"},{"E":870,"j":56,"curve":"d1","run":"dashed"},{"E":890,"j":50,"curve":"d1","run":"dashed"},{"E":910,"j":57,"curve":"d1","run":"dashed"},{"E":930,"j":52,"curve":"d1","run":"dashed"},{"E":950,"j":55,"curve":"d1","run":"dashed"},{"E":970,"j":48,"curve":"d1","run":"dashed"},{"E":990,"j":56,"curve":"d1","run":"dashed"},{"E":1010,"j":50,"curve":"d1","run":"dashed"},{"E":1030,"j":57,"curve":"d1","run":"dashed"},{"E":1052,"j":60,"curve":"d1","run":"dashed"},
{"E":520,"j":2.3,"curve":"d2","run":"dashed"},{"E":540,"j":2.6,"curve":"d2","run":"dashed"},{"E":550,"j":3.5,"curve":"d2","run":"dashed"},{"E":557,"j":6,"curve":"d2","run":"dashed"},{"E":563,"j":10,"curve":"d2","run":"dashed"},{"E":572,"j":18,"curve":"d2","run":"dashed"},{"E":581,"j":22,"curve":"d2","run":"dashed"},{"E":600,"j":30,"curve":"d2","run":"dashed"},{"E":617,"j":40,"curve":"d2","run":"dashed"},{"E":650,"j":48,"curve":"d2","run":"dashed"},{"E":680,"j":55,"curve":"d2","run":"dashed"},{"E":708,"j":60,"curve":"d2","run":"dashed"},{"E":740,"j":55,"curve":"d2","run":"dashed"},{"E":760,"j":60,"curve":"d2","run":"dashed"},{"E":798,"j":54,"curve":"d2","run":"dashed"},{"E":830,"j":58,"curve":"d2","run":"dashed"},{"E":860,"j":50,"curve":"d2","run":"dashed"},{"E":888,"j":50,"curve":"d2","run":"dashed"},{"E":920,"j":47,"curve":"d2","run":"dashed"},{"E":950,"j":52,"curve":"d2","run":"dashed"},{"E":980,"j":46,"curve":"d2","run":"dashed"},{"E":1000,"j":50,"curve":"d2","run":"dashed"},{"E":1033,"j":48,"curve":"d2","run":"dashed"},{"E":1045,"j":35,"curve":"d2","run":"dashed"}
],
"tags": [
{"panel":"a","E":-684,"j":1740,"t":"(a)"},{"panel":"b","E":-586,"j":1700,"t":"(b)"},{"panel":"c","E":-587,"j":1700,"t":"(c)"},{"panel":"d","E":-565,"j":1700,"t":"(d)"},{"panel":"e","E":-672,"j":1780,"t":"(e)"},{"panel":"f","E":-751,"j":1700,"t":"(f)"}
],
"names": [
{"panel":"a","E":-19,"j":0.0027,"t":"316L"},{"panel":"b","E":83,"j":0.0024,"t":"318LN"},{"panel":"c","E":177,"j":0.0028,"t":"904L"},{"panel":"d","E":956,"j":0.0026,"t":"Alloy 31"},{"panel":"e","E":766,"j":0.0028,"t":"Alloy 625"},{"panel":"f","E":1133,"j":0.0027,"t":"Ti gr. 2"}
],
"notes": [
{"panel":"a","E":-488,"j":7200,"t":"-200 mV: first\nfluctuations\nobserved in\nOCP measurement"},
{"panel":"b","E":-343,"j":2500,"t":"Metastable\npitting event"}
],
"pointers": [
{"panel":"a","E":-235,"j":93},{"panel":"a","E":-195,"j":7.4},
{"panel":"b","E":-168,"j":170},{"panel":"b","E":-68,"j":11}
],
"circles": [
{"panel":"b","E":-44.5,"j":5}
]
},
"concat": [
{"width": 376, "height": 246,
 "encoding": {
  "x": {"field": "E", "type": "quantitative", "scale": {"domain": [-700, 0], "nice": false, "zero": false},
   "axis": {"title": "E vs. (Ag/AgCl) / mV", "values": [-700,-650,-600,-550,-500,-450,-400,-350,-300,-250,-200,-150,-100,-50,0], "labelExpr": "datum.value % 100 === 0 ? toString(datum.value) : ''", "tickSize": {"condition": {"test": "datum.value % 100 === 0", "value": 11}, "value": 6}}},
  "y": {"field": "j", "type": "quantitative", "scale": {"type": "log", "domain": [0.001, 10000], "nice": false},
   "axis": {"title": "| j | / (µA cm⁻²)", "values": [0.001,0.002,0.003,0.004,0.005,0.006,0.007,0.008,0.009,0.01,0.02,0.03,0.04,0.05,0.06,0.07,0.08,0.09,0.1,0.2,0.3,0.4,0.5,0.6,0.7,0.8,0.9,1,2,3,4,5,6,7,8,9,10,20,30,40,50,60,70,80,90,100,200,300,400,500,600,700,800,900,1000,2000,3000,4000,5000,6000,7000,8000,9000,10000], "labelExpr": "abs(log(datum.value)/LN10 - round(log(datum.value)/LN10)) < 0.001 ? format(datum.value, '~f') : ''", "tickSize": {"condition": {"test": "abs(log(datum.value)/LN10 - round(log(datum.value)/LN10)) < 0.001", "value": 11}, "value": 6}}}
 },
 "layer": [
  {"data": {"name": "a"}, "mark": {"type": "line", "color": "black", "strokeWidth": 1}, "encoding": {"detail": {"field": "curve", "type": "nominal"}, "strokeDash": {"field": "run", "type": "nominal", "scale": {"domain": ["solid", "dashed"], "range": [[1, 0], [7, 4]]}, "legend": null}, "order": {"value": null}}},
  {"data": {"name": "pointers"}, "transform": [{"filter": "datum.panel === 'a'"}], "mark": {"type": "line", "color": "black", "strokeWidth": 1.2}, "encoding": {"order": {"value": null}}},
  {"data": {"name": "tags"}, "transform": [{"filter": "datum.panel === 'a'"}], "mark": {"type": "text", "font": "Liberation Sans", "fontSize": 40, "align": "left", "baseline": "middle", "color": "black"}, "encoding": {"text": {"field": "t", "type": "nominal"}}},
  {"data": {"name": "names"}, "transform": [{"filter": "datum.panel === 'a'"}], "mark": {"type": "text", "font": "Liberation Sans", "fontSize": 35, "align": "right", "baseline": "alphabetic", "color": "black"}, "encoding": {"text": {"field": "t", "type": "nominal"}}},
  {"data": {"name": "notes"}, "transform": [{"filter": "datum.panel === 'a'"}], "mark": {"type": "text", "font": "Liberation Sans", "fontSize": 15, "fontWeight": "bold", "align": "left", "baseline": "top", "lineBreak": "\n", "lineHeight": 17.6, "color": "black"}, "encoding": {"text": {"field": "t", "type": "nominal"}}}
 ]},
{"width": 371, "height": 246,
 "encoding": {
  "x": {"field": "E", "type": "quantitative", "scale": {"domain": [-600, 100], "nice": false, "zero": false},
   "axis": {"title": "E vs. (Ag/AgCl) / mV", "values": [-600,-550,-500,-450,-400,-350,-300,-250,-200,-150,-100,-50,0,50,100], "labelExpr": "datum.value % 100 === 0 ? toString(datum.value) : ''", "tickSize": {"condition": {"test": "datum.value % 100 === 0", "value": 11}, "value": 6}}},
  "y": {"field": "j", "type": "quantitative", "scale": {"type": "log", "domain": [0.001, 10000], "nice": false},
   "axis": {"title": "| j | / (µA cm⁻²)", "values": [0.001,0.002,0.003,0.004,0.005,0.006,0.007,0.008,0.009,0.01,0.02,0.03,0.04,0.05,0.06,0.07,0.08,0.09,0.1,0.2,0.3,0.4,0.5,0.6,0.7,0.8,0.9,1,2,3,4,5,6,7,8,9,10,20,30,40,50,60,70,80,90,100,200,300,400,500,600,700,800,900,1000,2000,3000,4000,5000,6000,7000,8000,9000,10000], "labelExpr": "abs(log(datum.value)/LN10 - round(log(datum.value)/LN10)) < 0.001 ? format(datum.value, '~f') : ''", "tickSize": {"condition": {"test": "abs(log(datum.value)/LN10 - round(log(datum.value)/LN10)) < 0.001", "value": 11}, "value": 6}}}
 },
 "layer": [
  {"data": {"name": "b"}, "mark": {"type": "line", "color": "black", "strokeWidth": 1}, "encoding": {"detail": {"field": "curve", "type": "nominal"}, "strokeDash": {"field": "run", "type": "nominal", "scale": {"domain": ["solid", "dashed"], "range": [[1, 0], [7, 4]]}, "legend": null}, "order": {"value": null}}},
  {"data": {"name": "pointers"}, "transform": [{"filter": "datum.panel === 'b'"}], "mark": {"type": "line", "color": "black", "strokeWidth": 2}, "encoding": {"order": {"value": null}}},
  {"data": {"name": "circles"}, "transform": [{"filter": "datum.panel === 'b'"}], "mark": {"type": "point", "shape": "circle", "filled": false, "size": 1024, "strokeWidth": 2.5, "color": "black", "opacity": 1}},
  {"data": {"name": "tags"}, "transform": [{"filter": "datum.panel === 'b'"}], "mark": {"type": "text", "font": "Liberation Sans", "fontSize": 40, "align": "left", "baseline": "middle", "color": "black"}, "encoding": {"text": {"field": "t", "type": "nominal"}}},
  {"data": {"name": "names"}, "transform": [{"filter": "datum.panel === 'b'"}], "mark": {"type": "text", "font": "Liberation Sans", "fontSize": 35, "align": "right", "baseline": "alphabetic", "color": "black"}, "encoding": {"text": {"field": "t", "type": "nominal"}}},
  {"data": {"name": "notes"}, "transform": [{"filter": "datum.panel === 'b'"}], "mark": {"type": "text", "font": "Liberation Sans", "fontSize": 16, "fontWeight": "bold", "align": "left", "baseline": "top", "lineBreak": "\n", "lineHeight": 18.3, "color": "black"}, "encoding": {"text": {"field": "t", "type": "nominal"}}}
 ]},
{"width": 372, "height": 242,
 "encoding": {
  "x": {"field": "E", "type": "quantitative", "scale": {"domain": [-600, 200], "nice": false, "zero": false},
   "axis": {"title": "E vs. (Ag/AgCl) / mV", "values": [-600,-550,-500,-450,-400,-350,-300,-250,-200,-150,-100,-50,0,50,100,150,200], "labelExpr": "datum.value % 100 === 0 ? toString(datum.value) : ''", "tickSize": {"condition": {"test": "datum.value % 100 === 0", "value": 11}, "value": 6}}},
  "y": {"field": "j", "type": "quantitative", "scale": {"type": "log", "domain": [0.001, 10000], "nice": false},
   "axis": {"title": "| j | / (µA cm⁻²)", "values": [0.001,0.002,0.003,0.004,0.005,0.006,0.007,0.008,0.009,0.01,0.02,0.03,0.04,0.05,0.06,0.07,0.08,0.09,0.1,0.2,0.3,0.4,0.5,0.6,0.7,0.8,0.9,1,2,3,4,5,6,7,8,9,10,20,30,40,50,60,70,80,90,100,200,300,400,500,600,700,800,900,1000,2000,3000,4000,5000,6000,7000,8000,9000,10000], "labelExpr": "abs(log(datum.value)/LN10 - round(log(datum.value)/LN10)) < 0.001 ? format(datum.value, '~f') : ''", "tickSize": {"condition": {"test": "abs(log(datum.value)/LN10 - round(log(datum.value)/LN10)) < 0.001", "value": 11}, "value": 6}}}
 },
 "layer": [
  {"data": {"name": "c"}, "mark": {"type": "line", "color": "black", "strokeWidth": 1}, "encoding": {"detail": {"field": "curve", "type": "nominal"}, "strokeDash": {"field": "run", "type": "nominal", "scale": {"domain": ["solid", "dashed"], "range": [[1, 0], [7, 4]]}, "legend": null}, "order": {"value": null}}},
  {"data": {"name": "tags"}, "transform": [{"filter": "datum.panel === 'c'"}], "mark": {"type": "text", "font": "Liberation Sans", "fontSize": 40, "align": "left", "baseline": "middle", "color": "black"}, "encoding": {"text": {"field": "t", "type": "nominal"}}},
  {"data": {"name": "names"}, "transform": [{"filter": "datum.panel === 'c'"}], "mark": {"type": "text", "font": "Liberation Sans", "fontSize": 35, "align": "right", "baseline": "alphabetic", "color": "black"}, "encoding": {"text": {"field": "t", "type": "nominal"}}}
 ]},
{"width": 366, "height": 242,
 "encoding": {
  "x": {"field": "E", "type": "quantitative", "scale": {"domain": [-600, 1000], "nice": false, "zero": false},
   "axis": {"title": "E vs. (Ag/AgCl) / mV", "values": [-600,-500,-400,-300,-200,-100,0,100,200,300,400,500,600,700,800,900,1000], "labelExpr": "datum.value % 200 === 0 ? toString(datum.value) : ''", "tickSize": {"condition": {"test": "datum.value % 200 === 0", "value": 11}, "value": 6}}},
  "y": {"field": "j", "type": "quantitative", "scale": {"type": "log", "domain": [0.001, 10000], "nice": false},
   "axis": {"title": "| j | / (µA cm⁻²)", "values": [0.001,0.002,0.003,0.004,0.005,0.006,0.007,0.008,0.009,0.01,0.02,0.03,0.04,0.05,0.06,0.07,0.08,0.09,0.1,0.2,0.3,0.4,0.5,0.6,0.7,0.8,0.9,1,2,3,4,5,6,7,8,9,10,20,30,40,50,60,70,80,90,100,200,300,400,500,600,700,800,900,1000,2000,3000,4000,5000,6000,7000,8000,9000,10000], "labelExpr": "abs(log(datum.value)/LN10 - round(log(datum.value)/LN10)) < 0.001 ? format(datum.value, '~f') : ''", "tickSize": {"condition": {"test": "abs(log(datum.value)/LN10 - round(log(datum.value)/LN10)) < 0.001", "value": 11}, "value": 6}}}
 },
 "layer": [
  {"data": {"name": "d"}, "mark": {"type": "line", "color": "black", "strokeWidth": 1}, "encoding": {"detail": {"field": "curve", "type": "nominal"}, "strokeDash": {"field": "run", "type": "nominal", "scale": {"domain": ["solid", "dashed"], "range": [[1, 0], [7, 4]]}, "legend": null}, "order": {"value": null}}},
  {"data": {"name": "tags"}, "transform": [{"filter": "datum.panel === 'd'"}], "mark": {"type": "text", "font": "Liberation Sans", "fontSize": 40, "align": "left", "baseline": "middle", "color": "black"}, "encoding": {"text": {"field": "t", "type": "nominal"}}},
  {"data": {"name": "names"}, "transform": [{"filter": "datum.panel === 'd'"}], "mark": {"type": "text", "font": "Liberation Sans", "fontSize": 35, "align": "right", "baseline": "alphabetic", "color": "black"}, "encoding": {"text": {"field": "t", "type": "nominal"}}}
 ]},
{"width": 372, "height": 243,
 "encoding": {
  "x": {"field": "E", "type": "quantitative", "scale": {"domain": [-700, 800], "nice": false, "zero": false},
   "axis": {"title": "E vs. (Ag/AgCl) / mV", "values": [-700,-600,-500,-400,-300,-200,-100,0,100,200,300,400,500,600,700,800], "labelExpr": "datum.value % 200 === 0 ? toString(datum.value) : ''", "tickSize": {"condition": {"test": "datum.value % 200 === 0", "value": 11}, "value": 6}}},
  "y": {"field": "j", "type": "quantitative", "scale": {"type": "log", "domain": [0.001, 10000], "nice": false},
   "axis": {"title": "| j | / (µA cm⁻²)", "values": [0.001,0.002,0.003,0.004,0.005,0.006,0.007,0.008,0.009,0.01,0.02,0.03,0.04,0.05,0.06,0.07,0.08,0.09,0.1,0.2,0.3,0.4,0.5,0.6,0.7,0.8,0.9,1,2,3,4,5,6,7,8,9,10,20,30,40,50,60,70,80,90,100,200,300,400,500,600,700,800,900,1000,2000,3000,4000,5000,6000,7000,8000,9000,10000], "labelExpr": "abs(log(datum.value)/LN10 - round(log(datum.value)/LN10)) < 0.001 ? format(datum.value, '~f') : ''", "tickSize": {"condition": {"test": "abs(log(datum.value)/LN10 - round(log(datum.value)/LN10)) < 0.001", "value": 11}, "value": 6}}}
 },
 "layer": [
  {"data": {"name": "e"}, "mark": {"type": "line", "color": "black", "strokeWidth": 1}, "encoding": {"detail": {"field": "curve", "type": "nominal"}, "strokeDash": {"field": "run", "type": "nominal", "scale": {"domain": ["solid", "dashed"], "range": [[1, 0], [7, 4]]}, "legend": null}, "order": {"value": null}}},
  {"data": {"name": "tags"}, "transform": [{"filter": "datum.panel === 'e'"}], "mark": {"type": "text", "font": "Liberation Sans", "fontSize": 40, "align": "left", "baseline": "middle", "color": "black"}, "encoding": {"text": {"field": "t", "type": "nominal"}}},
  {"data": {"name": "names"}, "transform": [{"filter": "datum.panel === 'e'"}], "mark": {"type": "text", "font": "Liberation Sans", "fontSize": 35, "align": "right", "baseline": "alphabetic", "color": "black"}, "encoding": {"text": {"field": "t", "type": "nominal"}}}
 ]},
{"width": 368, "height": 243,
 "encoding": {
  "x": {"field": "E", "type": "quantitative", "scale": {"domain": [-800, 1200], "nice": false, "zero": false},
   "axis": {"title": "E vs. (Ag/AgCl) / mV", "values": [-800,-600,-400,-200,0,200,400,600,800,1000,1200], "labelExpr": "datum.value % 400 === 0 ? toString(datum.value) : ''", "tickSize": {"condition": {"test": "datum.value % 400 === 0", "value": 11}, "value": 6}}},
  "y": {"field": "j", "type": "quantitative", "scale": {"type": "log", "domain": [0.001, 10000], "nice": false},
   "axis": {"title": "| j | / (µA cm⁻²)", "values": [0.001,0.002,0.003,0.004,0.005,0.006,0.007,0.008,0.009,0.01,0.02,0.03,0.04,0.05,0.06,0.07,0.08,0.09,0.1,0.2,0.3,0.4,0.5,0.6,0.7,0.8,0.9,1,2,3,4,5,6,7,8,9,10,20,30,40,50,60,70,80,90,100,200,300,400,500,600,700,800,900,1000,2000,3000,4000,5000,6000,7000,8000,9000,10000], "labelExpr": "abs(log(datum.value)/LN10 - round(log(datum.value)/LN10)) < 0.001 ? format(datum.value, '~f') : ''", "tickSize": {"condition": {"test": "abs(log(datum.value)/LN10 - round(log(datum.value)/LN10)) < 0.001", "value": 11}, "value": 6}}}
 },
 "layer": [
  {"data": {"name": "f"}, "mark": {"type": "line", "color": "black", "strokeWidth": 1}, "encoding": {"detail": {"field": "curve", "type": "nominal"}, "strokeDash": {"field": "run", "type": "nominal", "scale": {"domain": ["solid", "dashed"], "range": [[1, 0], [7, 4]]}, "legend": null}, "order": {"value": null}}},
  {"data": {"name": "tags"}, "transform": [{"filter": "datum.panel === 'f'"}], "mark": {"type": "text", "font": "Liberation Sans", "fontSize": 40, "align": "left", "baseline": "middle", "color": "black"}, "encoding": {"text": {"field": "t", "type": "nominal"}}},
  {"data": {"name": "names"}, "transform": [{"filter": "datum.panel === 'f'"}], "mark": {"type": "text", "font": "Liberation Sans", "fontSize": 35, "align": "right", "baseline": "alphabetic", "color": "black"}, "encoding": {"text": {"field": "t", "type": "nominal"}}}
 ]}
],
"columns": 2,
"spacing": {"row": 87, "column": 96},
"bounds": "flush",
"resolve": {"scale": {"x": "independent", "y": "independent"}},
"config": {
 "font": "Liberation Sans",
 "view": {"stroke": "#707070", "strokeWidth": 1},
 "axis": {"grid": false, "domainColor": "black", "domainWidth": 1.2, "tickColor": "black", "tickWidth": 1.2, "labelFont": "Liberation Sans", "labelFontWeight": "bold", "labelColor": "black", "titleFont": "Liberation Sans", "titleFontWeight": "bold", "titleFontSize": 16, "titleColor": "black", "labelOverlap": false, "labelFlush": false, "labelBound": false},
 "axisX": {"labelFontSize": 16, "labelPadding": 9, "titlePadding": 12},
 "axisY": {"labelFontSize": 15, "labelPadding": 6, "titleX": -62, "titleBaseline": "bottom"}
}
}
